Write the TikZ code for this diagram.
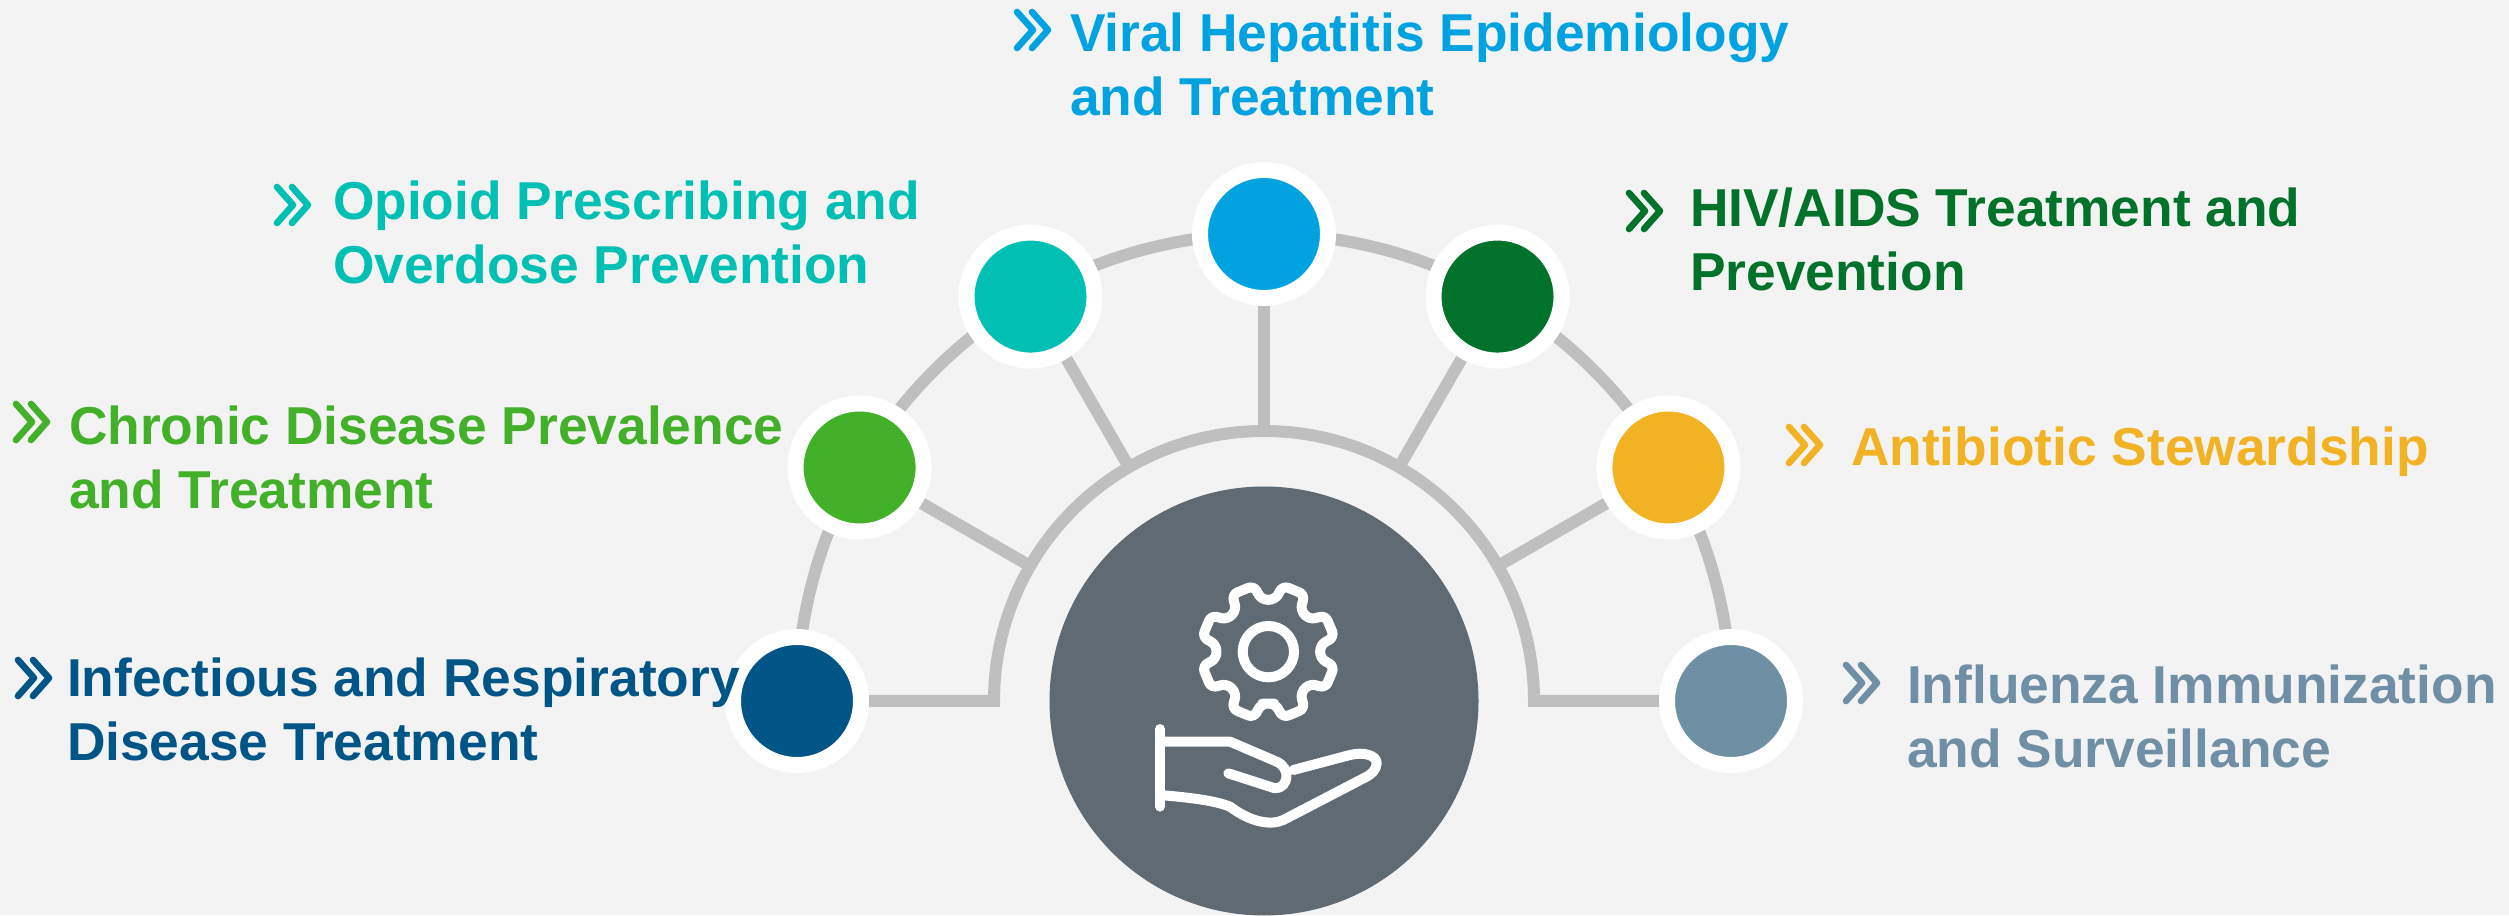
\documentclass[tikz,border=0pt]{standalone}
\usepackage{fontspec}
\setmainfont{Liberation Sans}
\usetikzlibrary{backgrounds,calc}
\definecolor{bgc}{HTML}{F3F3F3}
\definecolor{linec}{HTML}{BFBFBF}
\definecolor{hubc}{HTML}{5F6A72}
\definecolor{cInf}{HTML}{005587}
\definecolor{cChr}{HTML}{43B02A}
\definecolor{cOpi}{HTML}{00BFB3}
\definecolor{cVir}{HTML}{00A3E0}
\definecolor{cHiv}{HTML}{007229}
\definecolor{cAnt}{HTML}{F1B324}
\definecolor{cFlu}{HTML}{6F8FA5}
\tikzset{
  x=0.5pt,y=0.5pt,
  conn/.style={draw=linec,line width=6pt},
  dot/.style={circle,fill=#1,draw=white,line width=8pt,minimum size=64pt,inner sep=0pt,outer sep=0pt},
  hub/.style={circle,fill=hubc,minimum size=214.5pt,inner sep=0pt,outer sep=0pt},
  label/.style={text=#1,font=\bfseries\fontsize{26.67}{32}\selectfont,align=left,anchor=base west,inner sep=0pt,outer sep=0pt},
  chev/.style={draw=#1,line width=3.3pt,line cap=round,line join=round},
  icon/.style={draw=white,line width=5pt,line cap=round,line join=round}
}
\newcommand{\chevron}[3]{%
  \draw[chev=#3] (#1,#2+18) -- (#1+16,#2) -- (#1,#2-18);
  \draw[chev=#3] (#1+15,#2+18) -- (#1+31,#2) -- (#1+15,#2-18);
}
\begin{document}
\begin{tikzpicture}
\useasboundingbox (0,0) rectangle (2509,915);
% hub and dots
\coordinate (c) at (1264,214);
\node[hub] (hub) at (c) {};
\foreach \n/\a/\col in {d1/180/cInf,d2/150/cChr,d3/120/cOpi,d4/90/cVir,d5/60/cHiv,d6/30/cAnt,d7/0/cFlu}{
  \node[dot=\col] (\n) at ($(c)+(\a:467)$) {};
}
% texts: the base anchor of a two-line label is its last line
\node[label=cVir] (tVir) at (1070,799) {Viral Hepatitis Epidemiology\\and Treatment};
\node[label=cOpi] (tOpi) at (333,631) {Opioid Prescribing and\\Overdose Prevention};
\node[label=cChr] (tChr) at (69,406) {Chronic Disease Prevalence\\and Treatment};
\node[label=cInf] (tInf) at (67,154) {Infectious and Respiratory\\Disease Treatment};
\node[label=cHiv] (tHiv) at (1690,624) {HIV/AIDS Treatment and\\Prevention};
\node[label=cAnt] (tAnt) at (1851,449) {Antibiotic Stewardship};
\node[label=cFlu] (tFlu) at (1907,147) {Influenza Immunization\\and Surveillance};
\chevron{1017}{885}{cVir}
\chevron{277}{710}{cOpi}
\chevron{16}{493}{cChr}
\chevron{18}{237}{cInf}
\chevron{1629}{704}{cHiv}
\chevron{1789}{470}{cAnt}
\chevron{1846}{232}{cFlu}
\begin{pgfonlayer}{background}
  \fill[bgc] (0,0) rectangle (2509,915);
  \foreach \n/\a in {r2/150,r3/120,r4/90,r5/60,r6/30}{
    \coordinate (\n) at ($(c)+(\a:270)$);
  }
  \coordinate (r1) at ($(c)+(180:270)$);
  \coordinate (r7) at ($(c)+(0:270)$);
  \draw[conn,line join=miter] (d1.center) -- (r1) arc[start angle=180,end angle=0,radius=270] -- (d7.center);
  \draw[conn] (d1.center) arc[start angle=180,end angle=0,radius=467];
  \foreach \n in {2,3,4,5,6}{ \draw[conn] (d\n) -- (r\n); }
\end{pgfonlayer}
% gear and hand
\begin{scope}[shift={(1100,375)},xscale=1/3,yscale=-1/3]
  \draw[icon] (505,335) circle[radius=77];
  \draw[icon,rounded corners=3pt] ($(505,335)+(90:155.7)$)
    \foreach \t in {22.5,67.5,...,360}{
      -- ($(505,335)+(90-\t+15:157)$) -- ($(505,335)+(90-\t+10:203)$)
      -- ($(505,335)+(90-\t-10:203)$) -- ($(505,335)+(90-\t-15:157)$)
    } -- cycle;
  \draw[icon] (180,567) -- (180,800);
  \draw[icon] (180,605) -- (390,605) -- (530,665) .. controls (575,685) and (565,745) .. (525,745) -- (385,700);
  \draw[icon] (580,690) -- (750,645) .. controls (790,635) and (830,645) .. (830,670) .. controls (830,690) and (810,705) .. (800,710) -- (550,840) .. controls (510,858) and (450,845) .. (390,800) .. controls (340,780) and (260,772) .. (180,765);
\end{scope}
\end{tikzpicture}
\end{document}
